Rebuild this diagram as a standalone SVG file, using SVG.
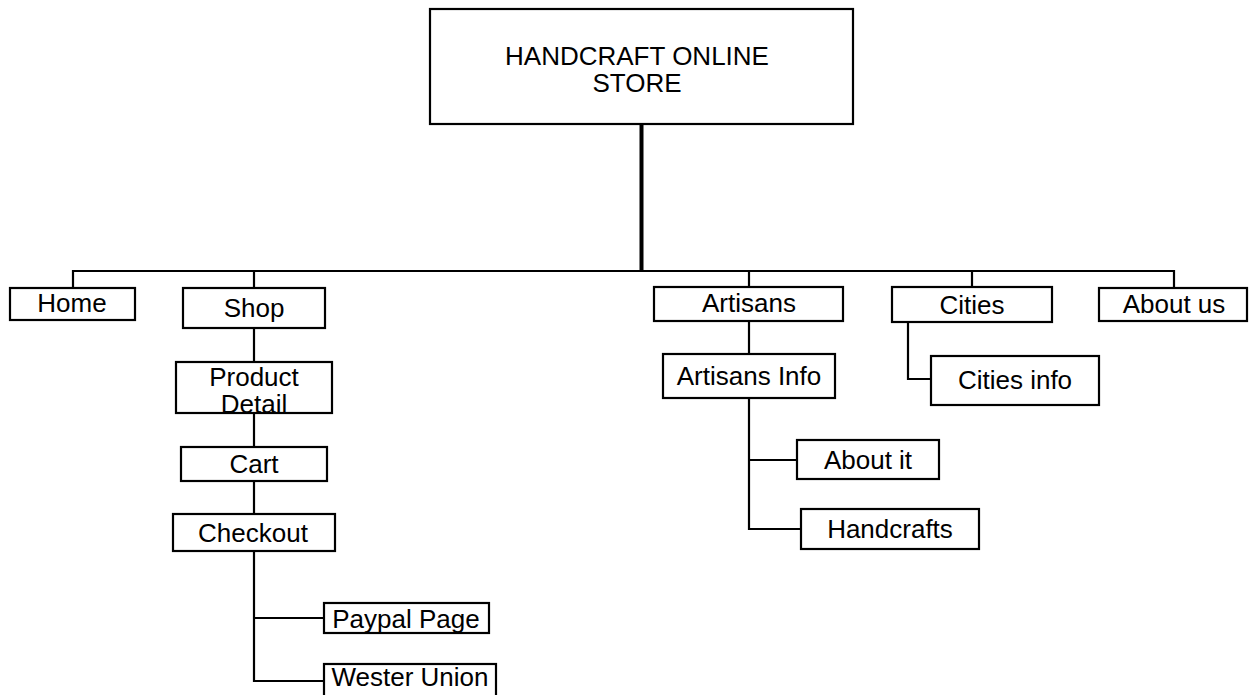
<svg xmlns="http://www.w3.org/2000/svg" width="1256" height="695" viewBox="0 0 1256 695">
<style>
.box{fill:#fff;stroke:#000;stroke-width:2.2}
.t{font-family:"Liberation Sans",Arial,sans-serif;font-size:26px;fill:#000;text-anchor:middle}
.c{fill:none;stroke:#000;stroke-width:2.2}
</style>
<rect width="1256" height="695" fill="#fff"/>
<g id="connectors">
<line x1="641.5" y1="124" x2="641.5" y2="271" stroke="#000" stroke-width="4"/>
<path class="c" d="M73 288 V271 H1174 V288"/>
<path class="c" d="M254 271 V288"/>
<path class="c" d="M749 271 V288"/>
<path class="c" d="M972 271 V288"/>
<path class="c" d="M254 328 V362 M254 413 V447 M254 481 V514"/>
<path class="c" d="M254 551 V681 H324 M254 618 H324"/>
<path class="c" d="M749 321 V354"/>
<path class="c" d="M749 398 V529 H801 M749 460 H797"/>
<path class="c" d="M908 322 V379 H931"/>
</g>
<g id="root"><rect class="box" x="430" y="9" width="423" height="115"/><text class="t" x="637" y="65">HANDCRAFT ONLINE</text><text class="t" x="637" y="92">STORE</text></g>
<g id="home"><rect class="box" x="10" y="288" width="125" height="32"/><text class="t" x="72" y="312">Home</text></g>
<g id="shop"><rect class="box" x="183" y="288" width="142" height="40"/><text class="t" x="254" y="317">Shop</text></g>
<g id="product-detail"><text class="t" x="254" y="386">Product</text><text class="t" x="254" y="413">Detail</text><rect class="box" x="176" y="362" width="156" height="51" style="fill:none"/></g>
<g id="cart"><rect class="box" x="181" y="447" width="146" height="34"/><text class="t" x="254" y="473">Cart</text></g>
<g id="checkout"><rect class="box" x="173" y="514" width="162" height="37"/><text class="t" x="253" y="542">Checkout</text></g>
<g id="paypal"><rect class="box" x="324" y="603" width="165" height="30"/><text class="t" x="406" y="628">Paypal Page</text></g>
<g id="wester"><rect class="box" x="324" y="664" width="172" height="40"/><text class="t" x="410" y="686">Wester Union</text></g>
<g id="artisans"><rect class="box" x="654" y="287" width="189" height="34"/><text class="t" x="749" y="312">Artisans</text></g>
<g id="artisans-info"><rect class="box" x="663" y="354" width="172" height="44"/><text class="t" x="749" y="385">Artisans Info</text></g>
<g id="about-it"><rect class="box" x="797" y="440" width="142" height="39"/><text class="t" x="868" y="469">About it</text></g>
<g id="handcrafts"><rect class="box" x="801" y="509" width="178" height="40"/><text class="t" x="890" y="538">Handcrafts</text></g>
<g id="cities"><rect class="box" x="892" y="287" width="160" height="35"/><text class="t" x="972" y="314">Cities</text></g>
<g id="cities-info"><rect class="box" x="931" y="356" width="168" height="49"/><text class="t" x="1015" y="389">Cities info</text></g>
<g id="about-us"><rect class="box" x="1099" y="288" width="148" height="33"/><text class="t" x="1174" y="313">About us</text></g>
</svg>
